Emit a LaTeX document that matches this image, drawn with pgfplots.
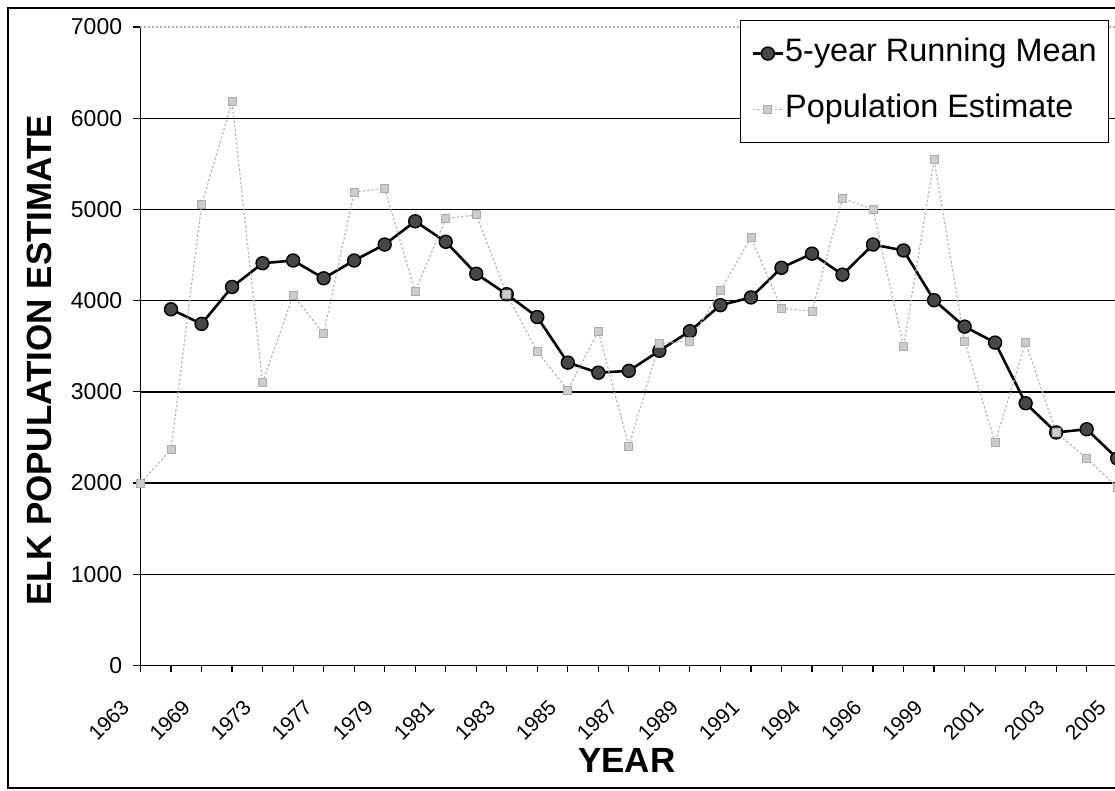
\documentclass[border=0pt]{standalone}
\usepackage{fontspec}
\setmainfont{Liberation Sans}
\usepackage{pgfplots}
\pgfplotsset{compat=1.18}
\begin{document}
\begin{tikzpicture}
\useasboundingbox (-70.25pt,-62.75pt) rectangle (487.25pt,332.75pt);
\clip (-70.25pt,-62.75pt) rectangle (487.25pt,332.75pt);
\draw[line width=0.8pt] (-66.25pt,-61.25pt) rectangle (520pt,328.75pt);
\begin{axis}[
  at={(0pt,0pt)}, anchor=south west,
  scale only axis, width=488.35pt, height=319.25pt,
  xmin=0, xmax=32, ymin=0, ymax=7000,
  axis x line*=bottom, axis y line*=left,
  axis line style={-, line width=0.8pt},
  xtick={0,...,32},
  xticklabels={1963,,1969,,1973,,1977,,1979,,1981,,1983,,1985,,1987,,1989,,1991,,1994,,1996,,1999,,2001,,2003,,2005},
  ytick={0,1000,...,6000},
  extra y ticks={7000},
  extra y tick style={grid style={gray!60, line width=0.6pt, dash pattern=on 1pt off 1pt}},
  ymajorgrids, grid style={black, line width=0.7pt},
  tick align=outside, major tick length=3.5pt, tick style={black, line width=0.6pt},
  /pgf/number format/assume math mode=true,
  /pgf/number format/set thousands separator={},
  yticklabel style={font=\fontsize{11.5}{13}\selectfont, anchor=east, inner sep=0pt, xshift=-5.5pt},
  xticklabel style={font=\fontsize{10.5}{12}\selectfont, inner sep=0pt, xshift=-7.5pt, yshift=-15.5pt, rotate=45, anchor=east},
  xlabel={YEAR}, ylabel={ELK POPULATION ESTIMATE},
  label style={font=\bfseries\fontsize{17.5}{20}\selectfont},
  xlabel style={at={(axis description cs:0.498,-0.149)}, anchor=center},
  ylabel style={at={(axis description cs:-0.103,0.478)}, anchor=center},
  legend style={at={(axis description cs:0.6138,1.011)}, anchor=north west,
    draw=black, line width=0.6pt, fill=white,
    font=\fontsize{16.2}{19}\selectfont,
    inner xsep=5.5pt, inner ysep=6.5pt, row sep=8pt,
    nodes={inner xsep=0.5pt, inner ysep=2pt, text height=12pt, text depth=4pt}},
  legend cell align=left,
  legend image code/.code={\draw[mark repeat=2,mark phase=2,#1] plot coordinates {(0pt,0pt) (7.5pt,0pt) (15pt,0pt)};},
]
\addplot[black, line width=1.3pt, mark=*, mark size=3.25pt,
  mark options={solid, fill=black!72, draw=black, line width=0.7pt}] coordinates {
(1,3905) (2,3745) (3,4150) (4,4410) (5,4440) (6,4245) (7,4440) (8,4615)
(9,4870) (10,4645) (11,4295) (12,4070) (13,3820) (14,3320) (15,3210) (16,3230)
(17,3450) (18,3665) (19,3950) (20,4035) (21,4360) (22,4515) (23,4285) (24,4615)
(25,4550) (26,4005) (27,3715) (28,3540) (29,2875) (30,2555) (31,2590) (32,2270)
};
\addlegendentry{5-year Running Mean}
\addplot[gray!55, line width=0.6pt, dash pattern=on 1.2pt off 1pt, mark=square*, mark size=2pt,
  mark options={solid, fill=gray!40, draw=gray!65, line width=0.4pt}] coordinates {
(0,2000) (1,2370) (2,5050) (3,6180) (4,3100) (5,4060) (6,3640) (7,5190)
(8,5230) (9,4100) (10,4900) (11,4940) (12,4070) (13,3440) (14,3020) (15,3665)
(16,2400) (17,3530) (18,3555) (19,4110) (20,4690) (21,3915) (22,3885) (23,5120)
(24,5000) (25,3500) (26,5545) (27,3555) (28,2445) (29,3540) (30,2555) (31,2270)
(32,1955)
};
\addlegendentry{Population Estimate}
\end{axis}
\end{tikzpicture}
\end{document}
